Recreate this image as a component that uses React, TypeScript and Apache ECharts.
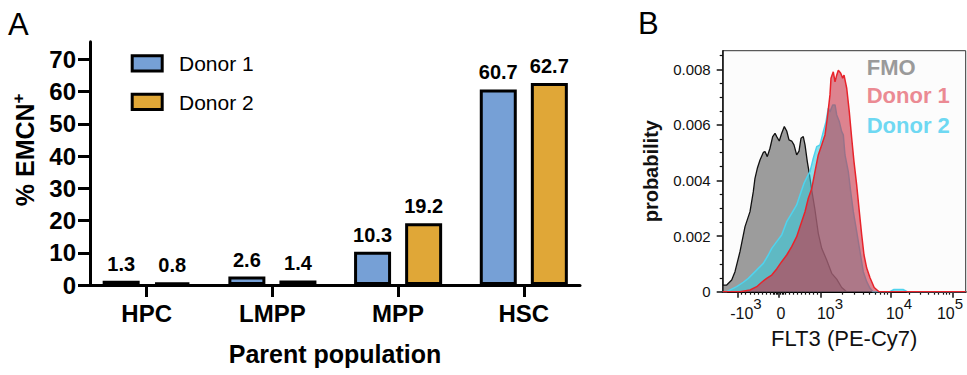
import React, { useEffect, useRef } from 'react';
import * as echarts from 'echarts';

// ---------- Panel A data ----------
const categories = ['HPC', 'LMPP', 'MPP', 'HSC'];
const donor1 = [1.3, 2.6, 10.3, 60.7];
const donor2 = [0.8, 1.4, 19.2, 62.7];
const yTicksA = [0, 10, 20, 30, 40, 50, 60, 70];
const seriesNamesA = ['Donor 1', 'Donor 2'];
const seriesColorsA = ['#76A0D6', '#E0A737'];

// ---------- Panel B data (x = position on the biexponential display scale, y = probability) ----------
const fmoX = [1.195, 1.262, 1.345, 1.4, 1.483, 1.567, 1.65, 1.705, 1.733, 1.772, 1.817, 1.872, 1.9, 1.938, 1.983, 2.028, 2.067, 2.095, 2.138, 2.178, 2.222, 2.262, 2.3, 2.345, 2.383, 2.428, 2.467, 2.5, 2.538, 2.567, 2.605, 2.638, 2.678, 2.733, 2.788, 2.845, 2.928, 3.012, 3.095, 3.178, 3.26, 5.245];
const fmoY = [0.00024, 0.00024, 0.00042, 0.00072, 0.00144, 0.00234, 0.00288, 0.0036, 0.00408, 0.00444, 0.00474, 0.00501, 0.00504, 0.00486, 0.00516, 0.00558, 0.0057, 0.00558, 0.00542, 0.0057, 0.00594, 0.00578, 0.00546, 0.00542, 0.00528, 0.00492, 0.00506, 0.00552, 0.00558, 0.00528, 0.00468, 0.00426, 0.00366, 0.00294, 0.0021, 0.00156, 0.00114, 0.00066, 0.00045, 0.00015, 0, 0];

const d2X = [1.195, 1.262, 1.428, 1.538, 1.622, 1.705, 1.788, 1.872, 1.955, 2.012, 2.095, 2.178, 2.262, 2.345, 2.428, 2.483, 2.55, 2.605, 2.65, 2.705, 2.762, 2.817, 2.872, 2.917, 2.955, 2.983, 3.028, 3.067, 3.095, 3.138, 3.178, 3.205, 3.233, 3.288, 3.328, 3.372, 3.428, 3.483, 3.538, 3.595, 3.65, 3.7, 3.98, 4.05, 4.2, 4.27, 5.245];
const d2Y = [0, 0, 0.00018, 0.00034, 0.00048, 0.00066, 0.00084, 0.00102, 0.00132, 0.00156, 0.0018, 0.00204, 0.00252, 0.00282, 0.00312, 0.00348, 0.0039, 0.00414, 0.00432, 0.0048, 0.00522, 0.00528, 0.00576, 0.00612, 0.0066, 0.00647, 0.00672, 0.00672, 0.00636, 0.00612, 0.00576, 0.00564, 0.00492, 0.00432, 0.0036, 0.00288, 0.00216, 0.00144, 0.00072, 0.00036, 0.00012, 0, 0, 0.00008, 0.00008, 0, 0];

const d1X = [1.195, 1.483, 1.65, 1.762, 1.845, 1.928, 2.012, 2.095, 2.178, 2.262, 2.345, 2.428, 2.483, 2.567, 2.622, 2.678, 2.733, 2.788, 2.845, 2.9, 2.938, 2.983, 3.0, 3.038, 3.067, 3.095, 3.122, 3.162, 3.195, 3.217, 3.262, 3.305, 3.345, 3.383, 3.428, 3.472, 3.512, 3.55, 3.595, 3.65, 3.72, 3.8, 5.245];
const d1Y = [0, 0, 0.00006, 0.00018, 0.00034, 0.00048, 0.0006, 0.00082, 0.00108, 0.00132, 0.00162, 0.00198, 0.00234, 0.00288, 0.00336, 0.0037, 0.00432, 0.00492, 0.00528, 0.00564, 0.00624, 0.00708, 0.00768, 0.00791, 0.00755, 0.00779, 0.00797, 0.00786, 0.00768, 0.00779, 0.00732, 0.00647, 0.00552, 0.00468, 0.00384, 0.00288, 0.00204, 0.00132, 0.00085, 0.0005, 0.00015, 0, 0];

const xLabelsB = ['-10^3', '0', '10^3', '10^4', '10^5'];
const xLabelPosB = [1.583, 2.167, 2.983, 4.133, 4.983];
const xMajorTicksB = [1.445, 2.133, 2.833, 3.995, 5.022];
const xLinearMinorB = [1.512, 1.578, 1.65, 1.722, 1.788, 1.862, 1.928, 1.983, 2.033, 2.058, 2.083, 2.108, 2.158, 2.183, 2.208, 2.233, 2.3, 2.367, 2.433, 2.5, 2.567, 2.633, 2.7, 2.767];
const yTicksB = [0, 0.002, 0.004, 0.006, 0.008];
const yMinorB = [0.0005, 0.001, 0.0015, 0.0025, 0.003, 0.0035, 0.0045, 0.005, 0.0055, 0.0065, 0.007, 0.0075, 0.0085];

const FONT = "'Liberation Sans', Arial, Helvetica, sans-serif";

function decadeMinor(a: number, b: number) {
  const out: number[] = [];
  for (let k = 2; k <= 9; k++) out.push(a + Math.log10(k) * (b - a));
  return out;
}

export default function App() {
  const ref = useRef<HTMLDivElement>(null);
  useEffect(() => {
    if (!ref.current) return;
    const chart = echarts.init(ref.current, undefined, { renderer: 'svg' });
    const xMinorB = [
      ...xLinearMinorB,
      ...decadeMinor(xMajorTicksB[2], xMajorTicksB[3]),
      ...decadeMinor(xMajorTicksB[3], xMajorTicksB[4]),
    ];
    const pairs = (xs: number[], ys: number[]) => xs.map((x, i) => [x, ys[i]]);

    const legendA: any[] = [];
    seriesNamesA.forEach((name, i) => {
      legendA.push({
        type: 'rect', z: 10,
        shape: { x: 132.2, y: 55.8 + i * 38.4, width: 30, height: 15.3 },
        style: { fill: seriesColorsA[i], stroke: '#000', lineWidth: 3 },
      });
      legendA.push({
        type: 'text', z: 10, left: 179, top: 52.8 + i * 38.9,
        style: { text: name, fontSize: 21, fontFamily: FONT, fill: '#000' },
      });
    });

    const barSeries = (i: number, values: number[]) => ({
      name: seriesNamesA[i], type: 'bar', xAxisIndex: 0, yAxisIndex: 0,
      data: categories.map((_, k) => [k, values[k]]),
      barWidth: 37, barGap: '38%',
      itemStyle: { color: seriesColorsA[i], borderColor: '#000', borderWidth: 3 },
      label: {
        show: true, position: 'top', distance: 7,
        formatter: (p: any) => Number(p.value[1]).toFixed(1),
        fontSize: 20, fontWeight: 'bold', color: '#000', fontFamily: FONT,
      },
    });

    const option: any = {
      animation: false,
      textStyle: { fontFamily: FONT },
      grid: [
        { left: 90, top: 41.7, width: 490, height: 243.3, containLabel: false },
        {
          left: 722.7, top: 50.7, width: 243, height: 241, containLabel: false,
          show: true, borderColor: '#333', borderWidth: 1, backgroundColor: '#fcfcfc',
        },
      ],
      xAxis: [
        {
          gridIndex: 0, type: 'value', min: -0.451, max: 3.447, position: 'bottom',
          splitLine: { show: false },
          axisLine: { show: true, onZero: false, lineStyle: { color: '#000', width: 3 } },
          axisTick: { show: true, customValues: [0, 1, 2, 3], length: 12, lineStyle: { color: '#000', width: 3 } },
          axisLabel: {
            customValues: [0, 1, 2, 3], margin: 16,
            formatter: (v: number) => categories[Math.round(v)] ?? '',
            fontSize: 24, fontWeight: 'bold', color: '#000', fontFamily: FONT,
          },
          name: 'Parent population', nameLocation: 'middle', nameGap: 56,
          nameTextStyle: { fontSize: 25, fontWeight: 'bold', color: '#000', fontFamily: FONT },
        },
        {
          gridIndex: 1, type: 'value', min: 1.195, max: 5.245, position: 'bottom',
          splitLine: { show: false },
          axisLine: { show: true, onZero: false, lineStyle: { color: '#000', width: 2 } },
          axisTick: { show: true, customValues: xMajorTicksB, length: 6, lineStyle: { color: '#111', width: 1.5 } },
          axisLabel: {
            customValues: xLabelPosB, margin: 4,
            formatter: (v: number) => {
              let idx = 0;
              xLabelPosB.forEach((p, i) => { if (Math.abs(p - v) < Math.abs(xLabelPosB[idx] - v)) idx = i; });
              const s = xLabelsB[idx];
              if (s.indexOf('^') >= 0) {
                const [b, e] = s.split('^');
                return `{b|${b}}{s|${e}}`;
              }
              return `{b|${s}}`;
            },
            rich: {
              b: { fontSize: 16, lineHeight: 36, color: '#111', fontFamily: FONT },
              s: { fontSize: 15, lineHeight: 15, verticalAlign: 'top', color: '#111', fontFamily: FONT },
            },
          },
          name: 'FLT3 (PE-Cy7)', nameLocation: 'middle', nameGap: 36,
          nameTextStyle: { fontSize: 22, color: '#111', fontFamily: FONT },
        },
        {
          gridIndex: 1, type: 'value', min: 1.195, max: 5.245, position: 'bottom',
          splitLine: { show: false },
          axisLine: { show: false, onZero: false },
          axisTick: { show: true, customValues: xMinorB, length: 3, lineStyle: { color: '#111', width: 1.2 } },
          axisLabel: { show: false },
        },
      ],
      yAxis: [
        {
          gridIndex: 0, type: 'value', min: 0, max: 75.5, position: 'left',
          splitLine: { show: false },
          axisLine: { show: true, onZero: false, lineStyle: { color: '#000', width: 3 } },
          axisTick: { show: true, customValues: yTicksA, length: 12, lineStyle: { color: '#000', width: 3 } },
          axisLabel: {
            customValues: yTicksA, margin: 14,
            fontSize: 24, fontWeight: 'bold', color: '#000', fontFamily: FONT,
          },
          name: '{a|% EMCN}{s|+}', nameLocation: 'middle', nameGap: 50, nameRotate: 90,
          nameTextStyle: {
            padding: [0, 0, 0, 27],
            rich: {
              a: { fontSize: 25, fontWeight: 'bold', color: '#000', fontFamily: FONT, lineHeight: 30 },
              s: { fontSize: 17, fontWeight: 'bold', color: '#000', fontFamily: FONT, lineHeight: 17, verticalAlign: 'top' },
            },
          },
        },
        {
          gridIndex: 1, type: 'value', min: 0, max: 0.00867, position: 'left',
          splitLine: { show: false },
          axisLine: { show: true, onZero: false, lineStyle: { color: '#111', width: 1.5 } },
          axisTick: { show: true, customValues: yTicksB, length: 6, lineStyle: { color: '#111', width: 1.5 } },
          axisLabel: {
            customValues: yTicksB, margin: 12,
            formatter: (v: number) => (v === 0 ? '0' : v.toFixed(3)),
            fontSize: 15, color: '#111', fontFamily: FONT,
          },
          name: 'probability', nameLocation: 'middle', nameGap: 62,
          nameTextStyle: { fontSize: 20, fontWeight: 'bold', color: '#111', fontFamily: FONT },
        },
        {
          gridIndex: 1, type: 'value', min: 0, max: 0.00867, position: 'left',
          splitLine: { show: false },
          axisLine: { show: false, onZero: false },
          axisTick: { show: true, customValues: yMinorB, length: 3, lineStyle: { color: '#111', width: 1.2 } },
          axisLabel: { show: false },
        },
      ],
      series: [
        barSeries(0, donor1),
        barSeries(1, donor2),
        {
          name: 'FMO', type: 'line', xAxisIndex: 1, yAxisIndex: 1,
          data: pairs(fmoX, fmoY), symbol: 'none', smooth: false,
          lineStyle: { color: '#111', width: 1.3 },
          areaStyle: { color: 'rgba(70,70,70,0.53)', opacity: 1, origin: 'start' },
          z: 2,
        },
        {
          name: 'Donor 2 histogram', type: 'line', xAxisIndex: 1, yAxisIndex: 1,
          data: pairs(d2X, d2Y), symbol: 'none', smooth: false,
          lineStyle: { color: '#4FD3EE', width: 1.5 },
          areaStyle: { color: 'rgba(55,205,222,0.6)', opacity: 1, origin: 'start' },
          z: 3,
        },
        {
          name: 'Donor 1 histogram', type: 'line', xAxisIndex: 1, yAxisIndex: 1,
          data: pairs(d1X, d1Y), symbol: 'none', smooth: false,
          lineStyle: { color: '#E8232B', width: 1.5 },
          areaStyle: { color: 'rgba(200,50,70,0.6)', opacity: 1, origin: 'start' },
          z: 4,
        },
      ],
      graphic: [
        ...legendA,
        { type: 'text', left: 8, top: 8.7, style: { text: 'A', fontSize: 31, fontFamily: FONT, fill: '#000' } },
        { type: 'text', left: 638, top: 7.9, style: { text: 'B', fontSize: 31, fontFamily: FONT, fill: '#000' } },
        { type: 'text', left: 866.7, top: 56.5, z: 10, style: { text: 'FMO', fontSize: 22, fontWeight: 'bold', fontFamily: FONT, fill: '#9a9a9a' } },
        { type: 'text', left: 866.7, top: 84.8, z: 10, style: { text: 'Donor 1', fontSize: 22, fontWeight: 'bold', fontFamily: FONT, fill: '#EB8A93' } },
        { type: 'text', left: 866.7, top: 114, z: 10, style: { text: 'Donor 2', fontSize: 22, fontWeight: 'bold', fontFamily: FONT, fill: '#6ED8F2' } },
      ],
    };
    chart.setOption(option);
    return () => chart.dispose();
  }, []);
  return <div ref={ref} style={{ width: 967, height: 375, position: 'absolute', left: 0, top: 0 }} />;
}
